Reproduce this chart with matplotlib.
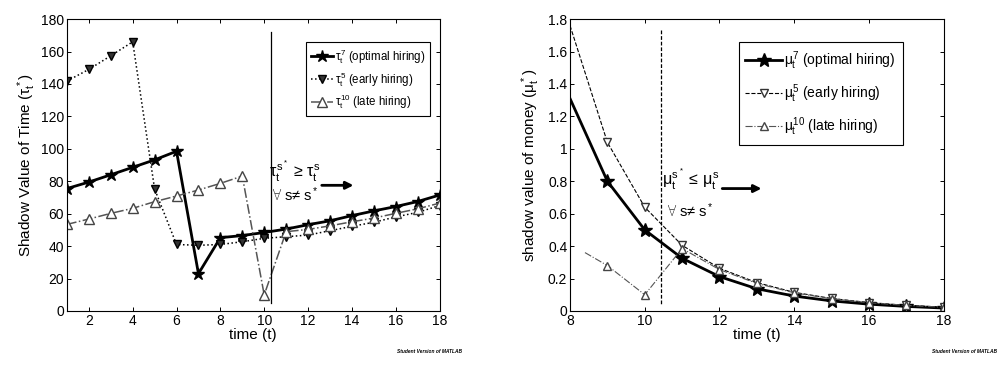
import matplotlib
matplotlib.use('Agg')
import matplotlib.pyplot as plt

plt.rcParams['font.family'] = ['Liberation Sans', 'DejaVu Sans']
plt.rcParams['mathtext.fontset'] = 'custom'
plt.rcParams['mathtext.rm'] = 'Liberation Sans'
plt.rcParams['mathtext.it'] = 'Liberation Sans'
plt.rcParams['mathtext.bf'] = 'Liberation Sans:bold'
plt.rcParams['xtick.direction'] = 'in'
plt.rcParams['ytick.direction'] = 'in'
plt.rcParams['xtick.top'] = True
plt.rcParams['ytick.right'] = True

# left panel: shadow value of time
t_left = list(range(1, 19))
tau7 = [75.5, 79.5, 84, 88.6, 93.2, 98.5, 23, 45.2, 46.5, 48.4, 50.5, 53.2, 55.6, 58.8, 61.7, 64.4, 67.5, 71.5]
tau5 = [141.8, 149, 157.4, 166, 75.2, 41, 40.5, 41, 42.7, 44.8, 45.8, 46.8, 49.5, 52.2, 54.7, 58, 60.8, 65]
tau10 = [53.4, 56.7, 60.2, 63.3, 67.4, 70.9, 74.6, 78.7, 83.2, 9.9, 48.9, 50.3, 52.5, 55, 57.3, 60.2, 63, 66.5]

# right panel: shadow value of money
t_right = list(range(8, 19))
mu7 = [1.31, 0.80, 0.50, 0.325, 0.212, 0.137, 0.092, 0.062, 0.042, 0.028, 0.018]
mu5 = [1.76, 1.04, 0.64, 0.405, 0.263, 0.175, 0.115, 0.077, 0.052, 0.035, 0.024]
t_mu10 = [8.4, 9, 10, 11, 12, 13, 14, 15, 16, 17, 18]
mu10 = [0.36, 0.28, 0.10, 0.385, 0.255, 0.17, 0.112, 0.075, 0.051, 0.034, 0.023]

fig = plt.figure(figsize=(9.99, 3.68), dpi=100)
ax1 = fig.add_axes([0.067, 0.155, 0.373, 0.793])
ax2 = fig.add_axes([0.5706, 0.155, 0.374, 0.793])

fs = 10

ax1.plot(t_left, tau7, '-', color='black', lw=2, marker='*', ms=9, mfc='black',
         label=r'$\tau_t^7$ (optimal hiring)')
ax1.plot(t_left, tau5, ':', color='black', lw=1.1, marker='v', ms=5.5, mfc='#333333',
         label=r'$\tau_t^5$ (early hiring)')
ax1.plot(t_left, tau10, '-.', color='#555555', lw=1.1, marker='^', ms=6.5, mfc='white',
         mec='#444444', label=r'$\tau_t^{10}$ (late hiring)')
ax1.plot([10.3, 10.3], [172, 5], '-', color='black', lw=0.9)
ax1.text(10.2, 86, r'$\tau_t^{s^*}$ ≥ $\tau_t^s$', fontsize=11.5, va='center', ha='left')
ax1.text(10.35, 72, r'$\forall$ s≠ s$^*$', fontsize=10.5, va='center', ha='left')
ax1.annotate('', xy=(14.2, 77.5), xytext=(12.5, 77.5),
             arrowprops=dict(arrowstyle='-|>', color='black', lw=2, mutation_scale=11))
ax1.set_xlim(1, 18)
ax1.set_ylim(0, 180)
ax1.set_xticks(range(2, 19, 2))
ax1.set_yticks(range(0, 181, 20))
ax1.tick_params(labelsize=fs, length=3, width=0.7, pad=2)
ax1.set_xlabel('time (t)', fontsize=fs + 1, labelpad=0)
ax1.set_ylabel(r'Shadow Value of Time ($\tau_t^*$)', fontsize=fs + 1, labelpad=2)
leg1 = ax1.legend(loc='upper right', bbox_to_anchor=(0.975, 0.92), fontsize=8.3,
                  handlelength=1.9, handletextpad=0.2, labelspacing=0.35,
                  borderpad=0.4, borderaxespad=0, fancybox=False, edgecolor='black',
                  framealpha=1)
leg1.get_frame().set_linewidth(0.8)

ax2.plot(t_right, mu7, '-', color='black', lw=2, marker='*', ms=10, mfc='black',
         markevery=list(range(1, 11)), label=r'$\mu_t^7$ (optimal hiring)')
ax2.plot(t_right, mu5, '--', color='black', lw=0.8, marker='v', ms=5.5, mfc='white',
         mec='#333333', markevery=list(range(1, 11)), label=r'$\mu_t^5$ (early hiring)')
ax2.plot(t_mu10, mu10, '-.', color='#555555', lw=0.8, marker='^', ms=5.5, mfc='white',
         mec='#444444', markevery=list(range(1, 11)), label=r'$\mu_t^{10}$ (late hiring)')
ax2.plot([10.43, 10.43], [1.73, 0.035], '--', color='black', lw=0.9, dashes=(3, 1.5))
ax2.text(10.45, 0.81, r'$\mu_t^{s^*}$ ≤ $\mu_t^s$', fontsize=11.5, va='center', ha='left')
ax2.text(10.6, 0.62, r'$\forall$ s≠ s$^*$', fontsize=10.5, va='center', ha='left')
ax2.annotate('', xy=(13.2, 0.755), xytext=(12.0, 0.755),
             arrowprops=dict(arrowstyle='-|>', color='black', lw=2, mutation_scale=11))
ax2.set_xlim(8, 18)
ax2.set_ylim(0, 1.8)
ax2.set_xticks(range(8, 19, 2))
ax2.set_yticks([i * 0.2 for i in range(10)])
ax2.set_yticklabels(['0', '0.2', '0.4', '0.6', '0.8', '1', '1.2', '1.4', '1.6', '1.8'])
ax2.tick_params(labelsize=fs, length=3, width=0.7, pad=2)
ax2.set_xlabel('time (t)', fontsize=fs + 1, labelpad=0)
ax2.set_ylabel(r'shadow value of money ($\mu_t^*$)', fontsize=fs + 1, labelpad=4)
leg2 = ax2.legend(loc='upper right', bbox_to_anchor=(0.89, 0.92), fontsize=10,
                  handlelength=2.6, handletextpad=0.2, labelspacing=0.75,
                  borderpad=0.5, borderaxespad=0, fancybox=False, edgecolor='black',
                  framealpha=1)
leg2.get_frame().set_linewidth(0.8)

for ax in (ax1, ax2):
    for sp in ax.spines.values():
        sp.set_linewidth(0.8)

fig.text(0.43, 0.045, 'Student Version of MATLAB', fontsize=3.5, style='italic',
         weight='bold', ha='center', va='center')
fig.text(0.965, 0.045, 'Student Version of MATLAB', fontsize=3.5, style='italic',
         weight='bold', ha='center', va='center')

fig.savefig('out.png', dpi=100)
